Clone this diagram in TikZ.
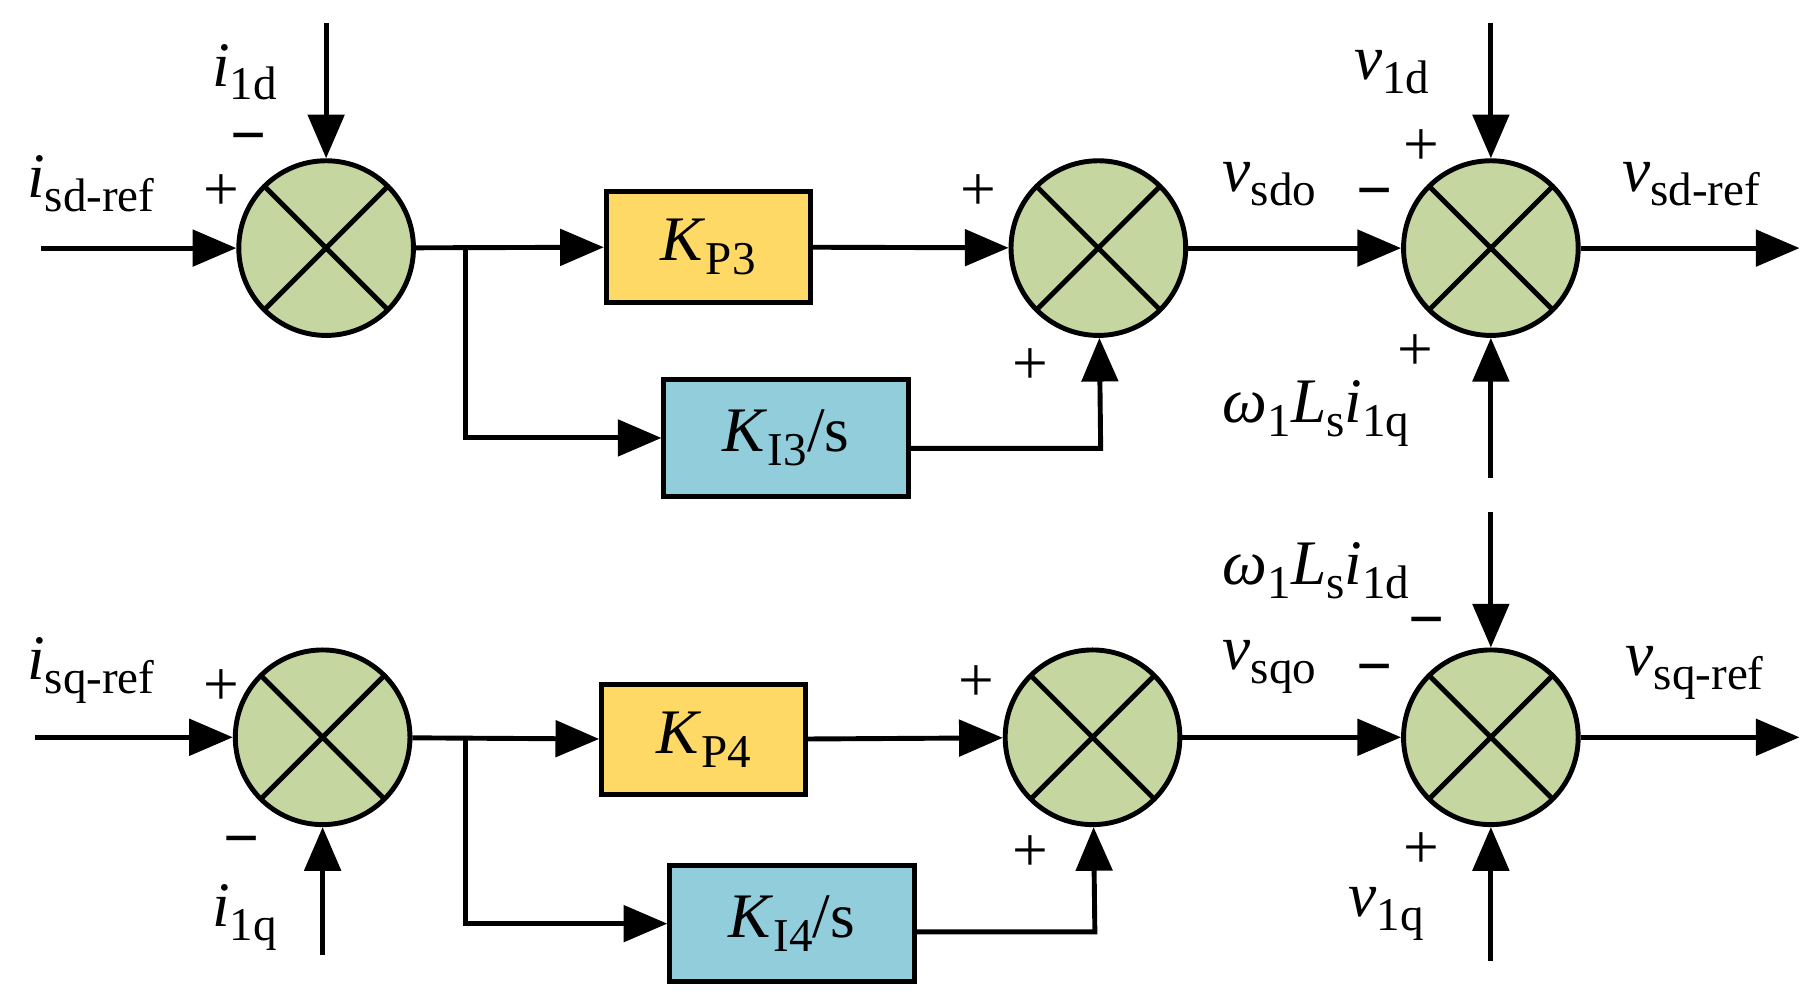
\documentclass[tikz,border=0pt]{standalone}
\usepackage{fontspec}
\setmainfont{Liberation Serif}
\usetikzlibrary{arrows.meta}
\definecolor{sg}{HTML}{C5D6A0}
\definecolor{ky}{HTML}{FFD966}
\definecolor{kb}{HTML}{92CDDC}
\newcommand\sbs[1]{\raisebox{-0.22em}{\fontsize{23}{23}\selectfont #1}}
\begin{document}
\begin{tikzpicture}[x=0.02cm,y=-0.02cm,line width=2.4pt,
 every node/.style={font=\fontsize{31}{31}\selectfont},
 sum/.style={circle,draw,fill=sg,minimum size=3cm,inner sep=0pt,
   path picture={\draw[line width=2.4pt] (path picture bounding box.north west)--(path picture bounding box.south east)
   (path picture bounding box.north east)--(path picture bounding box.south west);}},
 kp/.style={draw,fill=ky,minimum width=3.5cm,minimum height=1.9cm,inner sep=0pt},
 ki/.style={draw,fill=kb,minimum width=4.2cm,minimum height=2cm,inner sep=0pt},
 ar/.style={-{Triangle[length=0.75cm,width=0.62cm]}},
 lab/.style={inner sep=0pt}]
\useasboundingbox (0,0) rectangle (1560,862);
% top row
\node[sum] (a1) at (280,213) {};
\node[sum] (a2) at (943,213) {};
\node[sum] (a3) at (1280,213) {};
\node[kp] (p3) at (608,212) {\textit{K}\sbs{P3}};
\node[ki] (i3) at (675,376) {\textit{K}\sbs{I3}/s};
\coordinate (in1) at (35,213);
\coordinate (t1) at (280,20);
\coordinate (br1) at (400,213);
\coordinate (c1) at (945,385);
\coordinate (t3) at (1280,20);
\coordinate (b3) at (1280,410);
\coordinate (o1) at (1545,213);
\draw[ar] (in1)--(a1);
\draw[ar] (t1)--(a1);
\draw[ar] (a1)--(p3);
\draw[ar] (br1)|-(i3);
\draw[ar] (p3)--(a2);
\draw[ar] (i3.east|-c1)--(c1)--(a2);
\draw[ar] (a2)--(a3);
\draw[ar] (t3)--(a3);
\draw[ar] (b3)--(a3);
\draw[ar] (a3)--(o1);
\node[lab] (l1) at (210,62) {\textit{i}\sbs{1d}};
\node[lab] (l2) at (78,158) {\textit{i}\sbs{sd-ref}};
\node[lab] (l3) at (190,165) {+};
\node[lab] (l4) at (213,124) {\textbf{−}};
\node[lab] (l5) at (840,165) {+};
\node[lab] (l6) at (885,315) {+};
\node[lab] (l7) at (1090,158) {\textit{v}\sbs{sdo}};
\node[lab] (l8) at (1180,172) {\textbf{−}};
\node[lab] (l9) at (1220,127) {+};
\node[lab] (l10) at (1195,62) {\textit{v}\sbs{1d}};
\node[lab] (l11) at (1215,303) {+};
\node[lab] (l12) at (1130,355) {\textit{ω}\sbs{1}\textit{L}\sbs{s}\textit{i}\sbs{1q}};
\node[lab] (l13) at (1452,158) {\textit{v}\sbs{sd-ref}};
% bottom row
\node[sum] (b1) at (277,633) {};
\node[sum] (b2) at (938,633) {};
\node[sum] (bb3) at (1280,633) {};
\node[kp] (p4) at (604,635) {\textit{K}\sbs{P4}};
\node[ki] (i4) at (680,793) {\textit{K}\sbs{I4}/s};
\coordinate (in2) at (30,633);
\coordinate (u1) at (277,820);
\coordinate (br2) at (400,633);
\coordinate (c2) at (940,800);
\coordinate (t4) at (1280,440);
\coordinate (b4) at (1280,825);
\coordinate (o2) at (1545,633);
\draw[ar] (in2)--(b1);
\draw[ar] (u1)--(b1);
\draw[ar] (b1)--(p4);
\draw[ar] (br2)|-(i4);
\draw[ar] (p4)--(b2);
\draw[ar] (i4.east|-c2)--(c2)--(b2);
\draw[ar] (b2)--(bb3);
\draw[ar] (t4)--(bb3);
\draw[ar] (b4)--(bb3);
\draw[ar] (bb3)--(o2);
\node[lab] (m1) at (78,576) {\textit{i}\sbs{sq-ref}};
\node[lab] (m2) at (190,590) {+};
\node[lab] (m3) at (207,728) {\textbf{−}};
\node[lab] (m4) at (210,788) {\textit{i}\sbs{1q}};
\node[lab] (m5) at (838,587) {+};
\node[lab] (m6) at (885,733) {+};
\node[lab] (m7) at (1090,573) {\textit{v}\sbs{sqo}};
\node[lab] (m8) at (1180,580) {\textbf{−}};
\node[lab] (m9) at (1225,540) {\textbf{−}};
\node[lab] (m10) at (1130,490) {\textit{ω}\sbs{1}\textit{L}\sbs{s}\textit{i}\sbs{1d}};
\node[lab] (m11) at (1220,730) {+};
\node[lab] (m12) at (1190,785) {\textit{v}\sbs{1q}};
\node[lab] (m13) at (1455,578) {\textit{v}\sbs{sq-ref}};
\end{tikzpicture}
\end{document}
